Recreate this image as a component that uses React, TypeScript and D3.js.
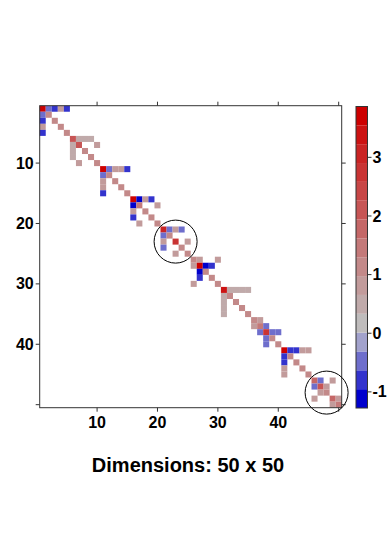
import React from 'react';
import * as d3 from 'd3';

// symmetric 50 x 50 sparse matrix, upper triangle + diagonal (mirrored below)
const rowIdx = [
  1, 1, 1, 1, 1, 2, 3, 4, 5,
  6, 6, 6, 6, 7, 7, 8, 9, 10,
  11, 11, 11, 11, 11, 12, 13, 14, 15,
  16, 16, 16, 16, 17, 17, 18, 19, 20,
  21, 21, 21, 21, 22, 23, 23, 24, 25,
  26, 26, 26, 27, 27, 27, 28, 29, 30,
  31, 31, 31, 31, 31, 32, 33, 34, 35,
  36, 36, 37, 37, 38, 38, 38, 39, 40,
  41, 41, 41, 41, 41, 42, 43, 44, 45,
  46, 46, 46, 47, 47, 48, 49, 49, 50,
];
const colIdx = [
  1, 2, 3, 4, 5, 2, 3, 4, 5,
  6, 7, 8, 9, 7, 10, 8, 9, 10,
  11, 12, 13, 14, 15, 12, 13, 14, 15,
  16, 17, 18, 19, 17, 20, 18, 19, 20,
  21, 22, 23, 24, 22, 23, 25, 24, 25,
  26, 27, 30, 27, 28, 29, 28, 29, 30,
  31, 32, 33, 34, 35, 32, 33, 34, 35,
  36, 37, 37, 38, 38, 39, 40, 39, 40,
  41, 42, 43, 44, 45, 42, 43, 44, 45,
  46, 47, 49, 47, 48, 48, 49, 50, 50,
];
const cellVal = [
  3.867, -0.5, -0.9, 0.8, -0.85, 1.1, 1.1, 1.1, 1.1,
  2.1, 0.6, 0.6, 0.6, 2.1, 0.8, 1.1, 1.1, 1.1,
  3.8, -0.5, 0.8, 0.8, -0.85, 1.1, 1.1, 1.1, 1.1,
  3.6, -1.275, 0.8, -0.85, 1.4, 0.8, 1.1, 1.1, 1.1,
  3.0, -0.5, 0.8, -0.5, 1.1, 2.6, 0.8, 1.1, 1.1,
  1.2, 0.8, 0.8, 3.6, -1.2, -0.9, 1.1, 1.1, 1.1,
  3.3, 0.6, 0.6, 0.6, 0.6, 1.1, 1.1, 1.1, 1.1,
  1.1, 0.8, 1.4, -0.5, 2.6, -0.6, -0.6, 1.1, 1.1,
  3.6, -0.85, -0.85, 0.8, 0.8, 1.1, 1.1, 1.1, 1.1,
  1.7, -0.5, 0.8, 2.0, 0.8, 1.1, 1.7, 0.8, 1.3,
];

const nDim = 50;
const zMin = -1.275;
const zMax = 3.867;
const regionColors = [
  '#0000CD', '#3333CD', '#6E6ECC', '#A2A2CC', '#BFBCBC', '#C0AAAA', '#C29B9B', '#C38989',
  '#C47979', '#C56767', '#C75555', '#C84646', '#C93434', '#CA2424', '#CC1212', '#CD0000',
];
const axisTicks = [10, 20, 30, 40, 50];
const axisLabels = [10, 20, 30, 40];
const barTicks = [-1, 0, 1, 2, 3];
const circleCentres = [23, 48];
const title = 'Dimensions: 50 x 50';

const FONT = "'Liberation Sans', Arial, Helvetica, sans-serif";

export default function App() {
  const W = 388, H = 533;
  const left = 39.7, right = 341.7, top = 105.7, bottom = 407.7;
  const x = d3.scaleLinear().domain([0.5, nDim + 0.5]).range([left, right]);
  const y = d3.scaleLinear().domain([0.5, nDim + 0.5]).range([top, bottom]);
  const color = d3.scaleQuantize<string>().domain([zMin, zMax]).range(regionColors);

  const cells: { r: number; c: number; v: number }[] = [];
  rowIdx.forEach((r, i) => {
    const c = colIdx[i];
    cells.push({ r, c, v: cellVal[i] });
    if (r !== c) cells.push({ r: c, c: r, v: cellVal[i] });
  });

  // colour key
  const kx0 = 356, kx1 = 367.5, ky0 = 106.5, ky1 = 408;
  const ky = d3.scaleLinear().domain([zMin, zMax]).range([ky1, ky0]);
  const step = (zMax - zMin) / regionColors.length;

  const tick = 4;
  const axisCol = '#333';

  return (
    <svg width={W} height={H} style={{ position: 'absolute', left: 0, top: 0, background: '#fff' }}
      fontFamily={FONT} fontWeight="bold">
      {cells.map((d, i) => (
        <rect key={i} x={x(d.c - 0.5)} y={y(d.r - 0.5)}
          width={x(d.c + 0.5) - x(d.c - 0.5)} height={y(d.r + 0.5) - y(d.r - 0.5)}
          fill={color(d.v)} />
      ))}
      <rect x={left} y={top} width={right - left} height={bottom - top}
        fill="none" stroke={axisCol} strokeWidth={1} />
      {axisTicks.map(t => (
        <g key={t} stroke={axisCol} strokeWidth={1}>
          <line x1={left - tick} x2={left} y1={y(t)} y2={y(t)} />
          <line x1={right} x2={right + tick} y1={y(t)} y2={y(t)} />
          <line x1={x(t)} x2={x(t)} y1={bottom} y2={bottom + tick} />
          <line x1={x(t)} x2={x(t)} y1={top - tick} y2={top} />
        </g>
      ))}
      {axisLabels.map(t => (
        <g key={t} fontSize={16} fill="#000">
          <text x={left - 6} y={y(t)} dy="0.35em" textAnchor="end">{t}</text>
          <text x={x(t)} y={428.3} textAnchor="middle">{t}</text>
        </g>
      ))}
      {circleCentres.map(c => (
        <circle key={c} cx={x(c)} cy={y(c)} r={21.5} fill="none" stroke="#000" strokeWidth={1} />
      ))}
      {regionColors.map((col, i) => (
        <rect key={col} x={kx0} width={kx1 - kx0}
          y={ky(zMin + (i + 1) * step)} height={ky(zMin + i * step) - ky(zMin + (i + 1) * step)}
          fill={col} />
      ))}
      <rect x={kx0} y={ky0} width={kx1 - kx0} height={ky1 - ky0} fill="none" stroke={axisCol} strokeWidth={1} />
      {barTicks.map(t => (
        <g key={t}>
          <line x1={kx1} x2={kx1 + tick} y1={ky(t)} y2={ky(t)} stroke={axisCol} strokeWidth={1} />
          <text x={kx1 + 5} y={ky(t)} dy="0.35em" fontSize={16} fill="#000">{t}</text>
        </g>
      ))}
      <text x={188} y={471.7} textAnchor="middle" fontSize={20} fill="#000">{title}</text>
    </svg>
  );
}
